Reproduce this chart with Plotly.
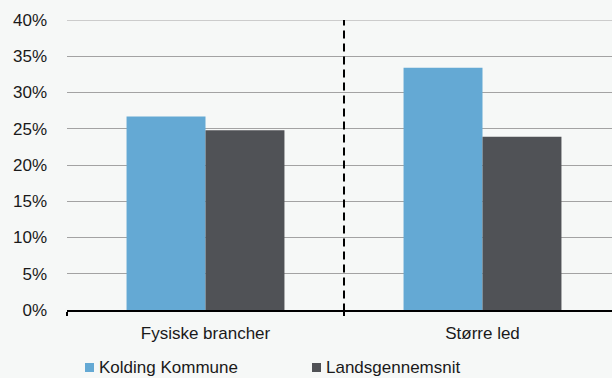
import plotly.graph_objects as go

categories = ["Fysiske brancher", "Større led"]
kolding = [26.7, 33.4]
lands = [24.8, 23.9]
series_names = ["Kolding Kommune", "Landsgennemsnit"]
colors = ["#64a9d4", "#505256"]
y_ticks = [0, 5, 10, 15, 20, 25, 30, 35, 40]

W, H = 612, 378
L, R, T, B = 67, 0, 20, 68
pw, ph = W - L - R, H - T - B
BG = "#f6f8f7"

def px(x):
    return (x - L) / pw

def py(y):
    return (H - B - y) / ph

fig = go.Figure()
for name, vals, c in zip(series_names, [kolding, lands], colors):
    fig.add_trace(go.Bar(x=categories, y=vals, name=name, marker=dict(color=c, line=dict(width=0)),
                         showlegend=False))

font = dict(family="Liberation Sans, Arial, sans-serif", size=17, color="#1a1a1a")

fig.update_layout(
    width=W, height=H,
    margin=dict(l=L, r=R, t=T, b=B),
    paper_bgcolor=BG, plot_bgcolor=BG,
    barmode="group", bargap=0.43, bargroupgap=0,
    font=font,
)
fig.update_xaxes(range=[-0.5, -0.5 + pw / 277], showline=True, linecolor="black", linewidth=2,
                 ticks="outside", tickson="boundaries", ticklen=4, tickcolor="black", tickwidth=2,
                 ticklabelstandoff=7,
                 showgrid=False, zeroline=False, fixedrange=True, tickfont=font)
fig.update_yaxes(range=[0, 40], tickvals=y_ticks, ticktext=[f"{v}%" for v in y_ticks],
                 showgrid=True, gridcolor="#a3a3a3", gridwidth=1, zeroline=False,
                 ticks="", ticklabelstandoff=19, tickfont=font, fixedrange=True)

# lighter top gridline
fig.add_shape(type="line", xref="paper", yref="y", x0=0, x1=1, y0=40, y1=40,
              line=dict(color="#cccccc", width=2), layer="above")

# dashed divider
fig.add_shape(type="line", xref="x", yref="y", x0=0.5, x1=0.5, y0=-2, y1=40,
              line=dict(color="black", width=2, dash="8px,5px"))

# manual legend
leg = [(85, 97), (312, 324)]
for (sx, tx), name, c in zip(leg, series_names, colors):
    fig.add_shape(type="rect", xref="paper", yref="paper",
                  x0=px(sx), x1=px(sx + 9), y0=py(363), y1=py(372),
                  fillcolor=c, line=dict(width=0))
    fig.add_annotation(xref="paper", yref="paper", x=px(tx), y=py(367.5), text=name,
                       showarrow=False, xanchor="left", yanchor="middle", font=font)

fig.write_html("out.html", config={"displayModeBar": False},
               post_script="document.body.style.margin='0';document.body.style.overflow='hidden';")
